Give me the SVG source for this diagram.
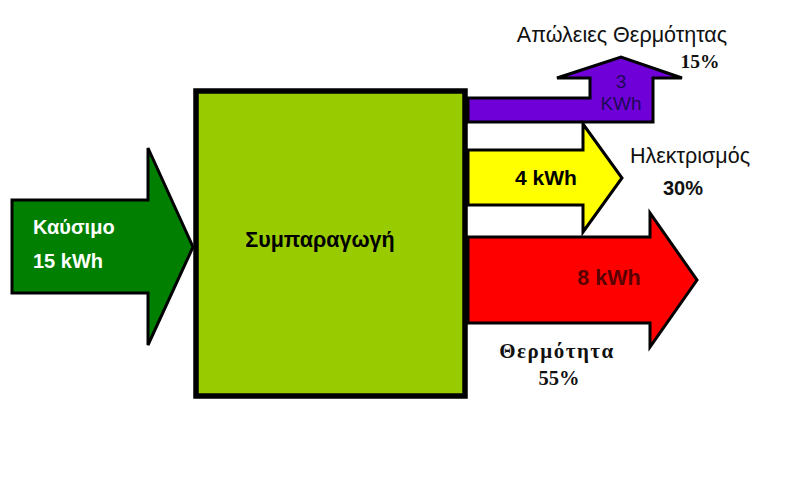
<svg xmlns="http://www.w3.org/2000/svg" width="800" height="482" viewBox="0 0 800 482">
<style>
.arrow{stroke:#000;stroke-width:3;stroke-linejoin:miter}
.sans{font-family:"Liberation Sans","DejaVu Sans",sans-serif}
.serif{font-family:"Liberation Serif","DejaVu Serif",serif}
.b{font-weight:bold}
</style>
<rect width="800" height="482" fill="#fff"/>
<g id="connectors">
<path id="heat-loss" class="arrow" fill="#7000d8" d="M468,98 L590,98 L590,78 L557,78 L621,57 L682,78 L653,78 L653,122 L468,122 Z"/>
<path id="electricity" class="arrow" fill="#ffff00" d="M468,150 L583,150 L583,124 L622,178 L583,232 L583,205 L468,205 Z"/>
<path id="heat" class="arrow" fill="#ff0000" d="M468,237 L650,237 L650,213 L697,280 L650,347 L650,323 L468,323 Z"/>
</g>
<g id="fuel">
<path class="arrow" fill="#007f00" stroke-width="4" d="M12,200 L148,200 L148,148 L193,247 L148,345 L148,293 L12,293 Z"/>
<text class="sans b" x="33" y="234" font-size="20" fill="#fff">Καύσιμο</text>
<text class="sans b" x="33" y="268" font-size="20" fill="#fff">15 kWh</text>
</g>
<g id="cogeneration">
<rect x="196" y="91" width="269" height="305" fill="#99cc00" stroke="#000" stroke-width="5.5"/>
<text class="sans b" x="320" y="247" font-size="21.5" text-anchor="middle" fill="#000">Συμπαραγωγή</text>
</g>
<g id="heat-loss-label">
<text class="sans" x="622" y="42" font-size="21.5" text-anchor="middle" fill="#111">Απώλειες Θερμότητας</text>
<text class="serif b" x="700" y="68" font-size="19.5" text-anchor="middle" fill="#111">15%</text>
<text class="sans" x="621" y="88" font-size="19" text-anchor="middle" fill="#1e0858">3</text>
<text class="sans" x="621" y="110" font-size="19" text-anchor="middle" fill="#1e0858">KWh</text>
</g>
<g id="electricity-label">
<text class="sans b" x="546" y="185" font-size="21" text-anchor="middle" fill="#000">4 kWh</text>
<text class="sans" x="690" y="163" font-size="21.5" text-anchor="middle" fill="#111">Ηλεκτρισμός</text>
<text class="sans b" x="683" y="195" font-size="20" text-anchor="middle" fill="#111">30%</text>
</g>
<g id="heat-label">
<text class="sans b" x="609" y="285" font-size="21.5" text-anchor="middle" fill="#5a0000">8 kWh</text>
<text class="serif b" x="557" y="358" font-size="21" text-anchor="middle" letter-spacing="1.5" fill="#111">Θερμότητα</text>
<text class="serif b" x="559" y="385" font-size="20.5" text-anchor="middle" fill="#111">55%</text>
</g>
</svg>
